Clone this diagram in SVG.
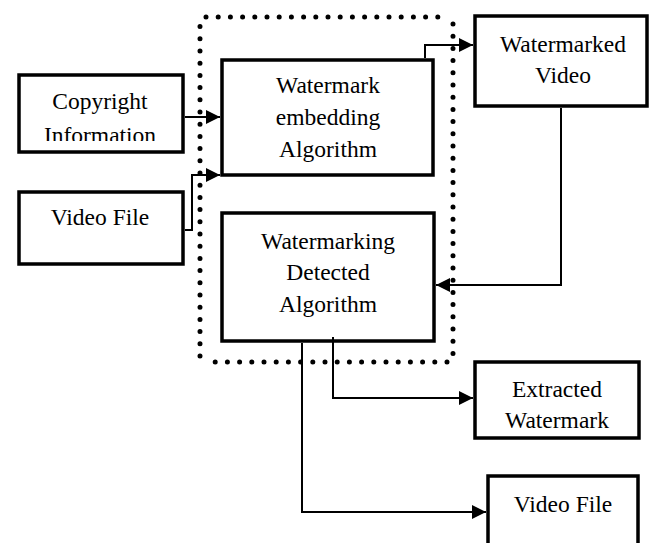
<svg xmlns="http://www.w3.org/2000/svg" width="649" height="543" viewBox="0 0 649 543">
<style>
.box{fill:#fff;stroke:#000;stroke-width:3.5}
.t{font-family:'Liberation Serif','Times New Roman',serif;font-size:23.5px;text-anchor:middle;fill:#000}
.c{fill:none;stroke:#000;stroke-width:2}
.dots{fill:none;stroke:#000;stroke-width:5;stroke-linecap:round;stroke-dasharray:0 12.2}
</style>
<defs>
<marker id="arr" markerUnits="userSpaceOnUse" markerWidth="15" markerHeight="15" refX="14" refY="7" orient="auto">
<path d="M0,0 L14,7 L0,14 z" fill="#000"/>
</marker>
<clipPath id="clipCopy"><rect x="19" y="75" width="164" height="66"/></clipPath>
</defs>
<rect width="649" height="543" fill="#fff"/>
<g id="group-boundary">
<path class="dots" d="M206,17 H447 M453,24 V356 M447,362 H206 M200,356 V24"/>
</g>
<g id="copyright">
<rect class="box" x="19" y="75" width="164" height="77"/>
<g clip-path="url(#clipCopy)">
<text class="t" x="100" y="109">Copyright</text>
<text class="t" x="100" y="143">Information</text>
</g>
</g>
<g id="video-file-in">
<rect class="box" x="19" y="192" width="164" height="72"/>
<text class="t" x="100" y="225">Video File</text>
</g>
<g id="embedding">
<rect class="box" x="222" y="60" width="211" height="115"/>
<text class="t" x="328" y="93">Watermark</text>
<text class="t" x="328" y="125">embedding</text>
<text class="t" x="328" y="157">Algorithm</text>
</g>
<g id="detected">
<rect class="box" x="222" y="213" width="212" height="128"/>
<text class="t" x="328" y="249">Watermarking</text>
<text class="t" x="328" y="280">Detected</text>
<text class="t" x="328" y="312">Algorithm</text>
</g>
<g id="watermarked-video">
<rect class="box" x="475" y="16" width="172" height="90"/>
<text class="t" x="563" y="52">Watermarked</text>
<text class="t" x="563" y="83">Video</text>
</g>
<g id="extracted-watermark">
<rect class="box" x="475" y="362" width="164" height="76"/>
<text class="t" x="557" y="397">Extracted</text>
<text class="t" x="557" y="428">Watermark</text>
</g>
<g id="video-file-out">
<rect class="box" x="488" y="476" width="150" height="90"/>
<text class="t" x="563" y="512">Video File</text>
</g>
<g id="connectors">
<path class="c" d="M185,117 H220" marker-end="url(#arr)"/>
<path class="c" d="M185,230 H192 V175 H220" marker-end="url(#arr)"/>
<path class="c" d="M425,58 V45 H473" marker-end="url(#arr)"/>
<path class="c" d="M561,108 V285 H436" marker-end="url(#arr)"/>
<path class="c" d="M333,337 V398 H473" marker-end="url(#arr)"/>
<path class="c" d="M302,343 V512 H486" marker-end="url(#arr)"/>
</g>
</svg>
